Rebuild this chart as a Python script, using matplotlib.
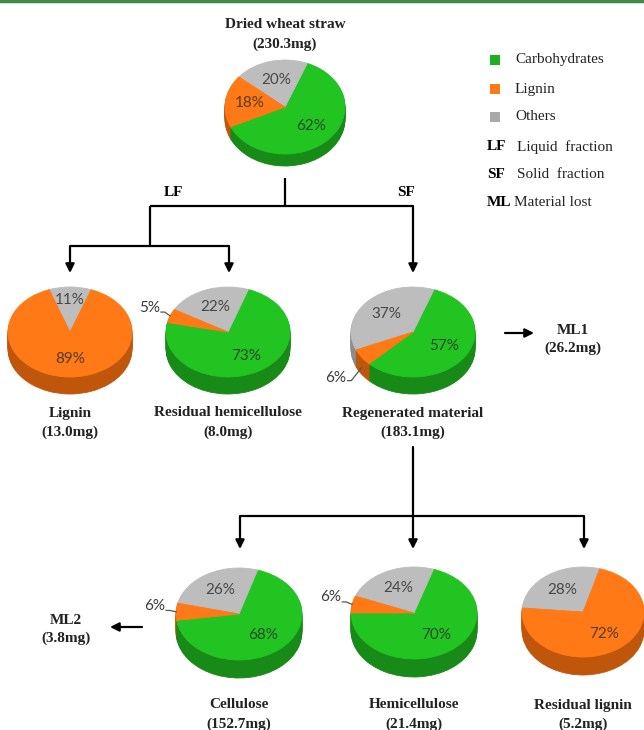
import numpy as np
import matplotlib.pyplot as plt

# mass balance of the fractionation, one entry per pie
pie_names = ["Dried wheat straw", "Lignin", "Residual hemicellulose",
             "Regenerated material", "Cellulose", "Hemicellulose", "Residual lignin"]
pie_mass = [230.3, 13.0, 8.0, 183.1, 152.7, 21.4, 5.2]
carbohydrates = [62, 0, 73, 57, 68, 70, 0]
others = [20, 11, 22, 37, 26, 24, 28]
lignin = [18, 89, 5, 6, 6, 6, 72]

lost_names = ["ML1", "ML2"]
lost_mass = [26.2, 3.8]

legend_labels = ["Carbohydrates", "Lignin", "Others"]
abbrev = ["LF", "SF", "ML"]
abbrev_text = ["Liquid  fraction", "Solid  fraction", "Material lost"]

# layout in pixels (x, y from top) and starting angle of each pie
W, H = 644, 730
pie_cx = [285, 70, 228, 413, 239, 414, 583]
pie_cy = [107, 332, 332, 332, 614, 613, 612]
pie_rx = [60, 62, 62, 62, 63, 63, 61]
pie_ry = [47, 45, 45, 45, 46, 46, 45]
pie_depth = [12, 17, 17, 17, 18, 18, 18]
pie_start = [205, 70, 168, 225, 188, 180, 74]

top_cols = ["#22c422", "#bdbdbd", "#ff7a17"]
side_cols = ["#178a17", "#8c8c8c", "#c0560c"]
legend_cols = ["#1fae1f", "#ff7a17", "#a9a9a9"]

serif = "Liberation Serif"
sans = "Lato"

fig = plt.figure(figsize=(W / 100, H / 100), dpi=100)
ax = fig.add_axes([0, 0, 1, 1])
ax.set_xlim(0, W)
ax.set_ylim(H, 0)
ax.axis("off")

# green rule along the top edge
ax.plot([0, W], [1.2, 1.2], color="#3d8a4a", lw=2.5, clip_on=False)


def seal(wedges):
    # paint edges in the face colour so no seams show between slices
    for w in wedges:
        w.set_edgecolor(w.get_facecolor())
        w.set_linewidth(0.6)


def draw_pie(i):
    vals = [carbohydrates[i], others[i], lignin[i]]
    cx, cy, rx, ry, d = pie_cx[i], pie_cy[i], pie_rx[i], pie_ry[i], pie_depth[i]
    t = d / ry
    pax = fig.add_axes([(cx - rx) / W, (H - (cy + ry + d)) / H,
                        2 * rx / W, (2 * ry + d) / H])
    # side wall: stacked darker copies shifted downward
    for k in np.linspace(t, 0, 14)[:-1]:
        ws, _ = pax.pie(vals, colors=side_cols, startangle=pie_start[i], center=(0, -k))
        seal(ws)
    wedges, _ = pax.pie(vals, colors=top_cols, startangle=pie_start[i])
    seal(wedges)
    pax.set_aspect("auto")
    pax.set_xlim(-1, 1)
    pax.set_ylim(-1 - t, 1)
    pax.axis("off")

    for w, v in zip(wedges, vals):
        if v == 0:
            continue
        a = np.deg2rad((w.theta1 + w.theta2) / 2)
        c, s = np.cos(a), np.sin(a)
        if v >= 8:
            r = 0.72 if v < 15 else 0.6
            pax.text(r * c, r * s, f"{v}%", ha="center", va="center",
                     fontsize=11, family=sans, color="#2b2b2b", alpha=0.8)
            continue
        # small slices: label outside with a short leader
        if s >= 0:
            lx, ly = 1.18 * c, 1.18 * s + 0.12
            end = (c, s)
            start = (lx + 0.02, ly - 0.1)
        else:
            lx, ly = 1.3 * c, 1.3 * s - 0.3
            end = (c, s - t * 0.6)
            start = (lx + 0.02, ly - 0.05)
        mid = (start[0] + 0.06, start[1])
        pax.plot([start[0], mid[0], end[0]], [start[1], mid[1], end[1]],
                 color="#555555", lw=0.9, clip_on=False)
        pax.text(lx, ly, f"{v}%", ha="right", va="center",
                 fontsize=11, family=sans, color="#3a3a3a")


for i in range(len(pie_names)):
    draw_pie(i)

# pie captions
cap_y = [25, 413, 413, 413, 705, 705, 705]
for i, name in enumerate(pie_names):
    ax.text(pie_cx[i], cap_y[i], name, ha="center", va="center",
            fontsize=11, family=serif, weight="bold", color="#222222")
    ax.text(pie_cx[i], cap_y[i] + 19, f"({pie_mass[i]}mg)", ha="center", va="center",
            fontsize=11, family=serif, weight="bold", color="#222222")

# material lost
ml_xy = [(573, 330), (66, 620)]
for (x, y), name, m in zip(ml_xy, lost_names, lost_mass):
    ax.text(x, y, name, ha="center", va="center", fontsize=11, family=serif,
            weight="bold", color="#222222")
    ax.text(x, y + 18, f"({m}mg)", ha="center", va="center", fontsize=11,
            family=serif, weight="bold", color="#222222")

# flow lines
line_kw = dict(color="black", lw=1.6, solid_capstyle="butt")
ax.plot([285, 285], [178, 206], **line_kw)
ax.plot([150, 413], [206, 206], **line_kw)
ax.plot([150, 150], [206, 246], **line_kw)
ax.plot([70, 229], [246, 246], **line_kw)
ax.plot([240, 584], [516, 516], **line_kw)

arrow_kw = dict(arrowstyle="-|>", color="black", lw=1.6, mutation_scale=13,
                shrinkA=0, shrinkB=0)
for x0, y0, x1, y1 in [(70, 246, 70, 273), (229, 246, 229, 273), (413, 206, 413, 273),
                       (413, 447, 413, 549), (240, 516, 240, 549), (584, 516, 584, 549),
                       (505, 333, 534, 333), (142, 627, 110, 627)]:
    ax.annotate("", xy=(x1, y1), xytext=(x0, y0), arrowprops=arrow_kw)

ax.text(173, 193, "LF", ha="center", va="center", fontsize=11, family=serif, weight="bold")
ax.text(406, 193, "SF", ha="center", va="center", fontsize=11, family=serif, weight="bold")

# legend
leg_y = [60, 89, 117]
ax.scatter([495] * 3, leg_y, marker="s", s=55, c=legend_cols, linewidths=0)
for y, lab in zip(leg_y, legend_labels):
    ax.text(515, y, lab, ha="left", va="center", fontsize=11, family=serif, color="#222222")
for y, a, txt, x in zip([147, 175, 202], abbrev, abbrev_text, [517, 517, 514]):
    ax.text(487, y, a, ha="left", va="center", fontsize=11, family=serif, weight="bold")
    ax.text(x, y, txt, ha="left", va="center", fontsize=11, family=serif, color="#222222")

fig.savefig("out.png", dpi=100)
